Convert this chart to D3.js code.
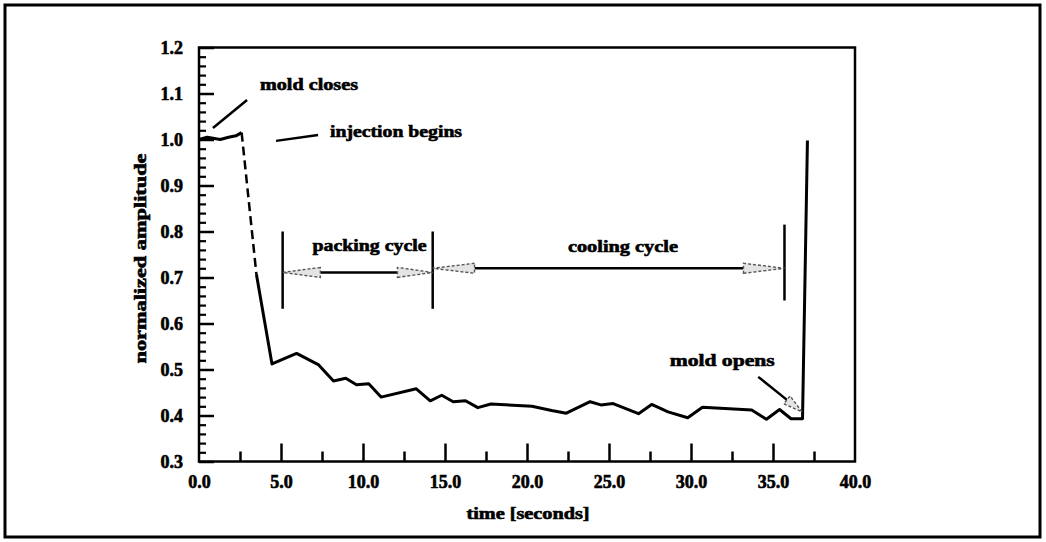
<!DOCTYPE html>
<html>
<head>
<meta charset="utf-8">
<script src="https://cdn.jsdelivr.net/npm/d3@7"></script>
<style>
  body { margin: 0; background: #fff; }
  svg text { font-family: "Liberation Serif", "DejaVu Serif", serif; font-weight: bold; fill: #000; stroke: #000; stroke-width: 0.6px; }
</style>
</head>
<body>
<div id="chart-area"></div>
<script>
// values
var timeSec   = [0, 0.5, 1.3, 1.8, 2.25, 2.6, 3.5, 4.45, 5.95, 7.3, 8.2, 8.95, 9.6, 10.35, 11.1, 13.25, 14.1, 14.8, 15.5, 16.25, 17.0, 17.8, 20.3, 21.5, 22.4, 23.85, 24.5, 25.25, 26.8, 27.6, 28.6, 29.8, 30.7, 33.7, 34.6, 35.4, 36.1, 36.8, 37.1];
var amplitude = [1.0, 1.005, 1.0, 1.005, 1.008, 1.015, 0.707, 0.512, 0.535, 0.51, 0.475, 0.481, 0.467, 0.469, 0.44, 0.458, 0.432, 0.444, 0.43, 0.432, 0.417, 0.425, 0.42, 0.411, 0.405, 0.43, 0.423, 0.426, 0.404, 0.424, 0.408, 0.395, 0.418, 0.412, 0.392, 0.413, 0.393, 0.393, 0.998];
var dashedFrom = 5; // segment 5 -> 6 shows up broken in the scan

var xTicks = [0, 5, 10, 15, 20, 25, 30, 35, 40];
var yTicks = [0.3, 0.4, 0.5, 0.6, 0.7, 0.8, 0.9, 1.0, 1.1, 1.2];

// cycle markers (seconds) and labels
var phaseBars = [5.1, 14.25, 35.7];
var phases = [
    {name: "packing cycle", from: 5.1, to: 14.25, lineFrom: 7.4, lineTo: 12.1, level: 0.711, labelAt: 10.4, labelLevel: 0.766, width: 114},
    {name: "cooling cycle", from: 14.25, to: 35.7, lineFrom: 16.8, lineTo: 33.2, level: 0.72, labelAt: 25.85, labelLevel: 0.764, width: 110}
];
var notes = [
    {text: "mold closes", t: 3.72, v: 1.116, width: 98, line: [[0.85, 1.025], [2.93, 1.086]]},
    {text: "injection begins", t: 7.99, v: 1.014, width: 132, line: [[4.7, 0.997], [7.26, 1.01]]},
    {text: "mold opens", t: 28.7, v: 0.516, width: 105, line: [[34.1, 0.484], [35.85, 0.434]], head: [36.77, 0.408]}
];

var W = 1046, H = 542;
var svg = d3.select("#chart-area").append("svg")
    .attr("width", W).attr("height", H);

// outer frame of the figure
svg.append("rect")
    .attr("x", 5).attr("y", 5).attr("width", 1035).attr("height", 532)
    .attr("fill", "none").attr("stroke", "#000").attr("stroke-width", 3);

var x = d3.scaleLinear().domain([0, 40]).range([199, 855]);
var y = d3.scaleLinear().domain([0.3, 1.2]).range([461.5, 47.5]);

// ticks pointing inward
var yMinor = d3.range(0.3, 1.2001, 0.02).filter(function(v) { return Math.abs(v * 10 - Math.round(v * 10)) > 0.01; });
svg.append("g").attr("transform", "translate(" + x(0) + ",0)")
    .call(d3.axisLeft(y).tickValues(yMinor).tickSize(-7).tickFormat(""))
    .call(function(g) { g.select(".domain").remove(); g.selectAll("line").attr("stroke-width", 2.2); });
svg.append("g").attr("transform", "translate(" + x(0) + ",0)")
    .call(d3.axisLeft(y).tickValues(yTicks).tickSize(-15).tickPadding(16).tickFormat(d3.format(".1f")))
    .call(function(g) {
        g.select(".domain").remove();
        g.selectAll("line").attr("stroke-width", 2.5);
        g.selectAll("text").attr("font-size", 18).attr("font-family", "Liberation Serif").attr("font-weight", "bold");
    });

svg.append("g").attr("transform", "translate(0," + y(0.3) + ")")
    .call(d3.axisBottom(x).tickValues([2.5, 7.5, 12.5, 17.5, 22.5, 27.5, 32.5, 37.5]).tickSize(-10).tickFormat(""))
    .call(function(g) { g.select(".domain").remove(); g.selectAll("line").attr("stroke-width", 2.5); });
svg.append("g").attr("transform", "translate(0," + y(0.3) + ")")
    .call(d3.axisBottom(x).tickValues(xTicks.slice(1, -1)).tickSize(-18).tickFormat(""))
    .call(function(g) { g.select(".domain").remove(); g.selectAll("line").attr("stroke-width", 2.5); });
svg.append("g").attr("transform", "translate(0," + y(0.3) + ")")
    .call(d3.axisBottom(x).tickValues(xTicks).tickSize(0).tickPadding(14).tickFormat(d3.format(".1f")))
    .call(function(g) {
        g.select(".domain").remove();
        g.selectAll("text").attr("font-size", 18).attr("font-family", "Liberation Serif").attr("font-weight", "bold");
    });

// plot box
svg.append("rect")
    .attr("x", x(0)).attr("y", y(1.2))
    .attr("width", x(40) - x(0)).attr("height", y(0.3) - y(1.2))
    .attr("fill", "none").attr("stroke", "#000").attr("stroke-width", 2.5);

// axis titles
svg.append("text")
    .attr("transform", "translate(142," + ((y(0.3) + y(1.2)) / 2 + 4) + ") rotate(-90)")
    .attr("text-anchor", "middle").attr("dominant-baseline", "middle")
    .attr("font-size", 16).attr("textLength", 210).attr("lengthAdjust", "spacingAndGlyphs")
    .text("normalized amplitude");
svg.append("text")
    .attr("x", 528).attr("y", 515)
    .attr("text-anchor", "middle").attr("dominant-baseline", "middle")
    .attr("font-size", 16).attr("textLength", 123).attr("lengthAdjust", "spacingAndGlyphs")
    .text("time [seconds]");

// signal
var pts = timeSec.map(function(t, i) { return [t, amplitude[i]]; });
var line = d3.line().x(function(d) { return x(d[0]); }).y(function(d) { return y(d[1]); });
svg.append("path").datum(pts.slice(0, dashedFrom + 1))
    .attr("d", line).attr("fill", "none").attr("stroke", "#000").attr("stroke-width", 3).attr("stroke-linejoin", "round");
svg.append("path").datum(pts.slice(dashedFrom, dashedFrom + 2))
    .attr("d", line).attr("fill", "none").attr("stroke", "#000").attr("stroke-width", 2.5)
    .attr("stroke-dasharray", "9,5");
svg.append("path").datum(pts.slice(dashedFrom + 1))
    .attr("d", line).attr("fill", "none").attr("stroke", "#000").attr("stroke-width", 3).attr("stroke-linejoin", "round");

// grey hollow arrowhead from base (bx,by) to tip (tx,ty)
function arrowHead(bx, by, tx, ty) {
    var dx = tx - bx, dy = ty - by, len = Math.sqrt(dx * dx + dy * dy);
    var nx = -dy / len * 5, ny = dx / len * 5;
    svg.append("path")
        .attr("d", "M" + (bx + nx) + "," + (by + ny) + "L" + tx + "," + ty + "L" + (bx - nx) + "," + (by - ny) + "Z")
        .attr("fill", "#e4e4e4").attr("stroke", "#555").attr("stroke-width", 1.4)
        .attr("stroke-dasharray", "3,2");
}

// phase bars
svg.selectAll(".bar").data(phaseBars).enter().append("line")
    .attr("x1", function(d) { return x(d); }).attr("x2", function(d) { return x(d); })
    .attr("y1", function(d, i) { return y(i == 2 ? 0.815 : 0.8); })
    .attr("y2", function(d, i) { return y(i == 2 ? 0.65 : 0.632); })
    .attr("stroke", "#000").attr("stroke-width", 2.5);

phases.forEach(function(p) {
    svg.append("line")
        .attr("x1", x(p.lineFrom)).attr("x2", x(p.lineTo))
        .attr("y1", y(p.level)).attr("y2", y(p.level))
        .attr("stroke", "#000").attr("stroke-width", 2.5);
    arrowHead(x(p.lineFrom), y(p.level), x(p.from), y(p.level));
    arrowHead(x(p.lineTo), y(p.level), x(p.to), y(p.level));
    svg.append("text")
        .attr("x", x(p.labelAt)).attr("y", y(p.labelLevel))
        .attr("text-anchor", "middle").attr("dominant-baseline", "middle")
        .attr("font-size", 17).attr("textLength", p.width).attr("lengthAdjust", "spacingAndGlyphs")
        .text(p.name);
});

notes.forEach(function(n) {
    svg.append("line")
        .attr("x1", x(n.line[0][0])).attr("y1", y(n.line[0][1]))
        .attr("x2", x(n.line[1][0])).attr("y2", y(n.line[1][1]))
        .attr("stroke", "#000").attr("stroke-width", 2.5);
    if (n.head) arrowHead(x(n.line[1][0]), y(n.line[1][1]), x(n.head[0]), y(n.head[1]));
    svg.append("text")
        .attr("x", x(n.t)).attr("y", y(n.v))
        .attr("dominant-baseline", "middle")
        .attr("font-size", 17).attr("textLength", n.width).attr("lengthAdjust", "spacingAndGlyphs")
        .text(n.text);
});
</script>
</body>
</html>
